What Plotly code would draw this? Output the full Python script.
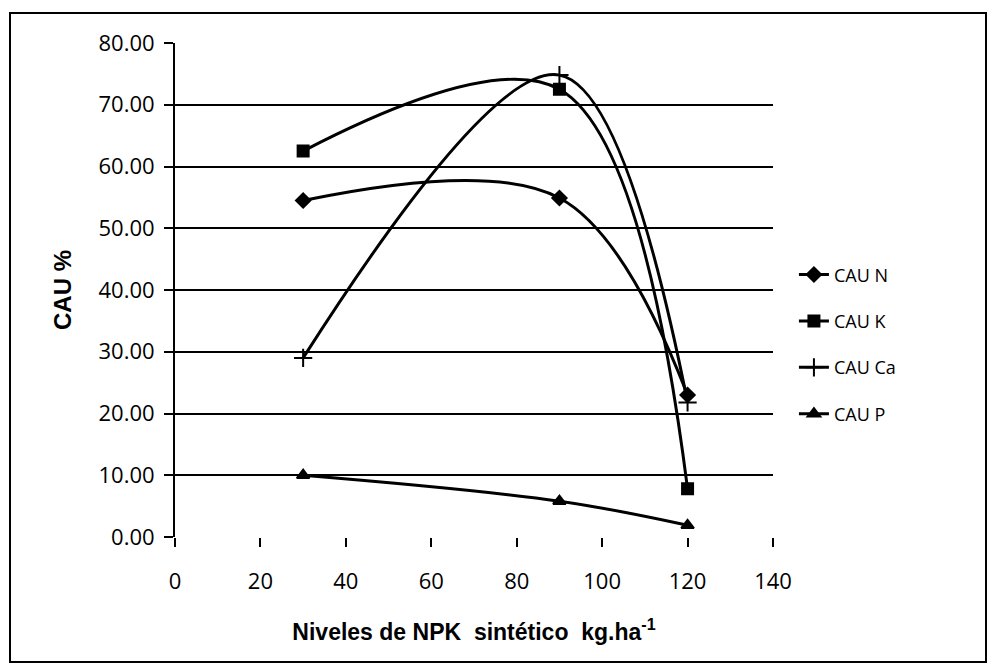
import plotly.graph_objects as go

x_levels = [30, 90, 120]
cau_n = [54.5, 54.9, 23.0]
cau_k = [62.5, 72.5, 7.8]
cau_ca = [29.0, 74.8, 21.8]
cau_p = [10.0, 5.8, 1.9]
series_names = ["CAU N", "CAU K", "CAU Ca", "CAU P"]
x_ticks = [0, 20, 40, 60, 80, 100, 120, 140]
y_ticks = [0, 10, 20, 30, 40, 50, 60, 70, 80]

W, H = 990, 670
L, R, T, B = 175, 217, 43, 133
pw, ph = W - L - R, H - T - B

fig = go.Figure()
symbols = ["diamond", "square", "cross-thin", "triangle-up"]
sizes = [11, 11, 13, 11]
for name, vals, sym, sz in zip(series_names, [cau_n, cau_k, cau_ca, cau_p], symbols, sizes):
    fig.add_trace(go.Scatter(
        x=x_levels, y=vals, name=name, mode="lines+markers",
        line=dict(color="black", width=3, shape="spline", smoothing=1.05),
        marker=dict(symbol=sym, size=sz, color="black",
                    line=dict(color="black", width=2)),
        legendgroup=name,
    ))

fig.update_layout(
    width=W, height=H,
    margin=dict(l=L, r=R, t=T, b=B),
    paper_bgcolor="white", plot_bgcolor="white",
    showlegend=True,
    legend=dict(x=1.035, y=0.39, xanchor="left", yanchor="middle",
                font=dict(family="Open Sans", size=18, color="black"),
                tracegroupgap=20, traceorder="grouped",
                bgcolor="rgba(0,0,0,0)"),
    xaxis=dict(range=[0, 140], tickvals=x_ticks, ticktext=[str(v) for v in x_ticks],
               showgrid=False, zeroline=False, showline=False,
               ticks="outside", ticklen=9, tickwidth=2, tickcolor="black",
               ticklabelstandoff=16,
               tickfont=dict(family="Open Sans", size=22, color="black"),
               title=dict(text="<b>Niveles de NPK  sintético  kg.ha<sup>-1</sup></b>",
                          font=dict(family="Liberation Sans", size=23, color="black"),
                          standoff=29)),
    yaxis=dict(range=[0, 80], tickvals=y_ticks, ticktext=[f"{v:.2f}" for v in y_ticks],
               showgrid=True, gridcolor="black", gridwidth=2,
               zeroline=False, showline=True, linecolor="black", linewidth=2,
               ticks="outside", ticklen=9, tickwidth=2, tickcolor="black",
               ticklabelstandoff=5,
               tickfont=dict(family="Open Sans", size=22, color="black"),
               title=dict(text="<b>CAU %</b>",
                          font=dict(family="Liberation Sans", size=24, color="black"),
                          standoff=20)),
)
# outer frame
fig.add_shape(type="rect", xref="paper", yref="paper",
              x0=(10 - L) / pw, x1=(986 - L) / pw,
              y0=(H - B - 662) / ph, y1=(H - B - 13) / ph,
              line=dict(color="black", width=2), fillcolor="rgba(0,0,0,0)", layer="below")

fig.write_html("out.html")
